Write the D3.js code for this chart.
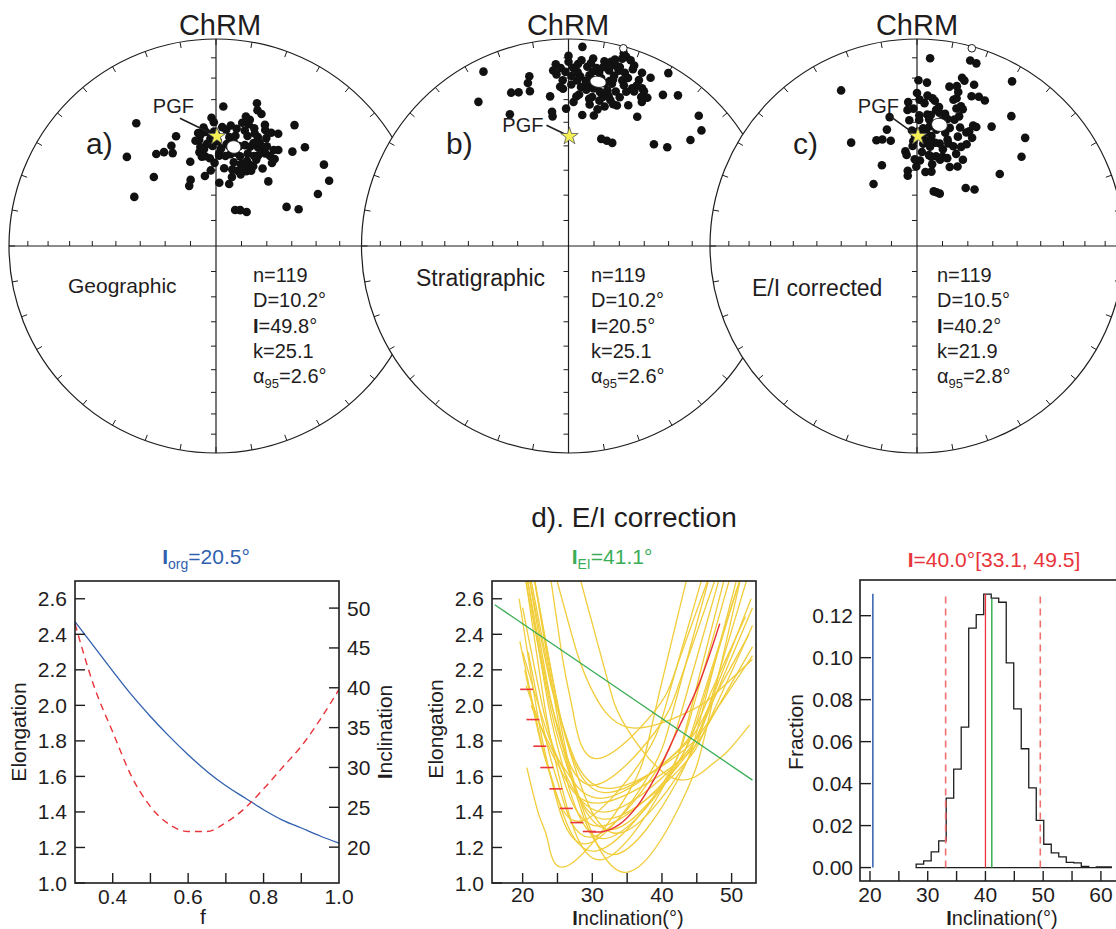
<!DOCTYPE html>
<html>
<head>
<meta charset="utf-8">
<script src="https://cdn.jsdelivr.net/npm/d3@7/dist/d3.min.js"></script>
<style>
html,body{margin:0;padding:0;background:#fff;}
svg{display:block;}
</style>
</head>
<body>
<svg id="chart" width="1116" height="929"></svg>
<script>
// ================= DATA =================
// Stereonets (a: geographic, b: stratigraphic, c: E/I corrected)
const netTitles = ["ChRM", "ChRM", "ChRM"];
const netTags = ["a)", "b)", "c)"];
const netFrames = ["Geographic", "Stratigraphic", "E/I corrected"];
const netN = [119, 119, 119];
const netDec = [10.2, 10.2, 10.5];
const netInc = [49.8, 20.5, 40.2];
const netK = [25.1, 25.1, 21.9];
const netA95 = [2.6, 2.6, 2.8];
const pgfDir = [0.5, 46.0];               // expected field direction [dec, inc]
const axisIncTicks = [10, 20, 30, 40, 50, 60, 70, 80];
const azimuthTicks = d3.range(0, 360, 10);

// [declination, inclination] of lower-hemisphere ChRM directions
const dirsGeo = [
[327,30],[315,39],[327,46],[331,47],[335,49],[336,46],[340,43],[318,53],[301,52],[343,55],
[339,62],[336,64],[351,62],[356,60],[3,65],[12,65],[3,33],[358,38],[359,40],[354,42],
[351,44],[351,47],[351,50],[350,52],[351,54],[355,44],[357,47],[358,50],[359,57],[2,53],
[3,42],[5,43],[7,46],[10,45],[10,48],[9,53],[6,59],[12,59],[13,62],[16,59],
[19,60],[22,58],[25,57],[15,53],[20,54],[19,51],[16,48],[16,44],[12,39],[15,39],
[15,37],[18,40],[16,29],[17,32],[19,33],[19,42],[21,43],[22,37],[23,39],[26,39],
[29,38],[23,47],[26,47],[28,48],[25,50],[31,48],[31,45],[33,44],[34,50],[34,48],
[31,54],[39,57],[33,31],[42,36],[39,41],[53,35],[60,37],[63,44],[61,58],[66,54],
[28,74],[34,73],[42,72],[2,54],[6,49],[13,49],[17,56],[22,55],[352,45],[349,47],
[1,48],[6,54],[20,46],[25,42],[0,45],[10,42],[353,51],[356,55],[23,51],[13,36],
[7,41],[12,52],[14,42],[23,45],[27,45],[359,44],[355,49],[3,51],[19,48],[25,52],
[12,56],[353,54],[8,50],[19,57],[25,55]
];
const dirsStrat = [
[4,4],[0,9],[0,12],[356,13],[355,16],[356,18],[358,21],[357,24],[358,25],[1,19],
[1,23],[3,17],[3,13],[4,11],[6,14],[7,12],[4,19],[6,21],[7,18],[8,16],
[9,14],[10,16],[8,20],[7,23],[9,24],[10,22],[11,10],[13,9.5],[14,8],[16,6.5],
[16,3.5],[17,5],[15,11],[16,13],[15,16],[14,19],[15,20],[14,23.5],[17,23],[18,13],
[20,8],[20,10],[23,10],[26,10.5],[19,19],[22,19],[23,20],[25,17],[26,18],[26,21],
[28,20],[30,4],[32,15],[36,11],[45,12],[49,16],[49,23],[40,36],[45,33],[17,45],
[20,45],[23,45],[23,27],[28,30],[19,29],[17.5,29],[12,29],[14.5,31],[12,33],[11,36],
[6,36.5],[8,29],[3,28.5],[2,31],[359,34],[353,35],[353,37],[353,28],[347,17],[346,20],
[346,24],[342,23],[339.5,22],[336,31],[328,19],[334,7],[13,27],[9,28],[3,21],[359,17],
[11,13],[13,14],[15,18],[12.5,20.5],[6.5,25],[4.5,24],[18,17],[19.5,15],[23,14],[19,25],
[20.5,21.5],[11.5,25],[357.5,15],[1.5,15],[11,18.5],[16,27.5],[27,23],[7.5,9.5],[16,11],[4,27.5],
[8.5,31.5],[15,26],[23,17],[18.5,6],[13,12]
];
const dirsEI = [
[4,10],[16,7.5],[18,8],[30,9],[15,17],[16,18],[19.5,18.5],[11.5,22.5],[14,21.5],[15,24],
[15,27],[20,24],[22.5,23],[25,23.5],[0.5,21],[3.5,22],[0,27],[4,28],[6,29],[7,30],
[356.5,31],[1,30],[356,34.5],[358.5,34],[1,37],[4.5,36.5],[6,36.5],[8,34],[9.5,35],[11.5,38],
[13.5,37],[16,31.5],[17.5,30],[18.5,31],[25,36],[26.5,36],[32,32.5],[36,23.5],[45,27],[49.5,34],
[49,46],[40,60],[45.5,58],[17,67.5],[20,67.5],[23.5,67.5],[325,60],[336.5,55],[353,60],[352.5,62],
[359.5,58.5],[6.5,60.5],[11,60],[27,54.5],[23,50],[26,44.5],[27,41],[23.5,40],[20,39],[20.5,43],
[17,47],[16,45.5],[12.5,48],[10,48],[12,53.5],[16,53],[19,53],[15,54.5],[9,54],[10.5,57],
[7.5,53.5],[2,56],[3,52.5],[353,52],[358,48],[359,46],[357.5,43.5],[356.5,39],[1,39],[3,42.5],
[4.5,44],[7.5,45.5],[6,47.5],[3.5,49],[3,46.5],[339,44.5],[342,45],[346,46.5],[345.5,41.5],[327.5,40.5],
[334,17.5],[348,36.5],[11,39.5],[15.5,40.5],[16.5,36.5],[6,41.5],[9.5,42.5],[14,43],[20,47.5],[24,46.5],
[357.5,50],[353.5,53.5],[7.5,50],[15,50],[22.5,56],[9,32.5],[14,28],[3,31.5],[28,51],[358.5,55.5],
[5.5,38.5],[18,34.5],[24.5,39],[12,35],[0.5,44]
];
// upper-hemisphere directions (open symbols)
const upperGeo = [];
const upperStrat = [[15.5, -1]];
const upperEI = [[15.5, -1]];

// ---- d) left panel: flattening factor f ----
const fValues  = [0.30,0.35,0.40,0.45,0.50,0.55,0.60,0.65,0.70,0.75,0.80,0.85,0.90,0.95,1.00];
const incVsF   = [48.3,45.2,42.1,39.1,36.4,33.9,31.6,29.5,27.7,26.2,24.7,23.4,22.4,21.4,20.5];
const elongVsF = [2.46,2.11,1.85,1.60,1.43,1.33,1.29,1.29,1.34,1.42,1.53,1.65,1.77,1.92,2.09];
const elongTicks = [1.0,1.2,1.4,1.6,1.8,2.0,2.2,2.4,2.6];
const incRightTicks = [20,25,30,35,40,45,50];
const fTicks = [0.4,0.5,0.6,0.7,0.8,0.9];
const fLabels = [0.4,0.6,0.8,1.0];
const incOrig = 20.5;

// ---- d) middle panel: bootstrap E/I curves ----
const tk03Line = [[16.0,2.566],[53.0,1.579]];
const bootCurves = [
[[20.6,1.65],[22.4,1.375],[23.6,1.24],[26.6,1.10],[35.2,1.51],[38.8,1.93],[43.8,2.75]],
[[21.5,2.75],[25.4,1.905],[28.1,1.48],[34.7,1.06],[43.1,1.48],[46.6,1.905],[51.5,2.75]],
[[20.3,2.75],[23.4,1.94],[25.65,1.535],[31.0,1.13],[40.1,1.535],[43.9,1.94],[49.2,2.75]],
[[19.6,2.36],[22.8,1.77],[25.05,1.475],[30.5,1.18],[40.25,1.57],[44.3,1.965],[50.0,2.75]],
[[20.5,2.75],[23.7,2.0],[26.0,1.625],[31.5,1.25],[41.15,1.6],[45.1,1.955],[50.8,2.66]],
[[21.5,2.75],[25.0,2.015],[27.5,1.65],[33.5,1.28],[43.0,1.65],[46.9,2.015],[52.5,2.75]],
[[20.0,2.55],[23.2,1.935],[25.5,1.63],[31.0,1.32],[41.9,1.64],[46.4,1.96],[52.8,2.60]],
[[20.8,2.75],[23.9,2.055],[26.15,1.71],[31.5,1.36],[42.25,1.63],[46.7,1.905],[53.0,2.45]],
[[20.5,2.11],[23.6,1.78],[25.75,1.615],[31.0,1.45],[42.0,1.67],[46.6,1.89],[53.0,2.33]],
[[21.0,2.75],[24.1,2.13],[26.25,1.82],[31.5,1.51],[42.0,1.73],[46.3,1.955],[52.5,2.40]],
[[20.8,2.75],[23.9,2.14],[26.15,1.84],[31.5,1.535],[42.25,1.72],[46.7,1.91],[53.0,2.28]],
[[23.9,2.75],[25.9,2.225],[27.25,1.96],[30.6,1.70],[38.8,1.96],[42.2,2.225],[47.0,2.75]],
[[24.6,2.75],[27.7,2.31],[29.9,2.09],[35.2,1.876],[44.1,1.97],[47.8,2.07],[53.0,2.26]],
[[28.0,2.75],[32.0,2.17],[34.8,1.88],[41.6,1.59],[47.1,1.665],[49.4,1.74],[52.6,1.89]],
[[19.5,2.60],[22.3,1.91],[24.25,1.565],[29.0,1.22],[38.0,1.6],[41.7,1.985],[47.0,2.75]],
[[20.2,2.75],[23.8,2.025],[26.35,1.66],[32.5,1.30],[42.0,1.66],[45.9,2.025],[51.5,2.75]],
[[20.0,2.30],[23.5,1.85],[26.0,1.625],[32.0,1.40],[42.5,1.69],[46.8,1.975],[53.0,2.55]],
[[20.8,2.30],[23.5,1.78],[25.4,1.52],[30.0,1.26],[39.25,1.635],[43.1,2.005],[48.5,2.75]],
[[21.5,2.75],[24.9,1.955],[27.25,1.56],[33.0,1.16],[42.0,1.56],[45.7,1.955],[51.0,2.75]],
[[20.3,2.20],[22.7,1.775],[24.4,1.56],[28.5,1.35],[37.25,1.70],[40.9,2.05],[46.0,2.75]],
[[21.2,2.00],[24.4,1.74],[26.6,1.61],[32.0,1.48],[42.0,1.735],[46.1,1.99],[52.0,2.50]],
[[20.5,2.75],[23.3,2.15],[25.25,1.85],[30.0,1.55],[39.0,1.85],[42.7,2.15],[48.0,2.75]]
];
const incTicksMid = [20,25,30,35,40,45,50];
const incLabelsMid = [20,30,40,50];
const incEI = 41.1;

// ---- d) right panel: bootstrap histogram ----
const binEdges = [28.0,29.3,30.6,31.9,33.2,34.5,35.8,37.1,38.4,39.7,41.0,42.3,43.6,44.9,46.2,
                  47.5,48.8,50.1,51.4,52.7,54.0,55.3,56.6,57.9,59.2,60.5,61.8];
const binFrac = [0.0016,0.0032,0.0075,0.0127,0.0331,0.0469,0.0669,0.1141,0.1205,0.1303,
                 0.1284,0.1264,0.0975,0.0756,0.0566,0.0380,0.0225,0.0111,0.0070,0.0051,
                 0.0025,0.0022,0.0006,0.0000,0.0003,0.0003];
const fracTicks = [0,0.02,0.04,0.06,0.08,0.10,0.12];
const histIncTicks = [20,25,30,35,40,45,50,55,60];
const histIncLabels = [20,30,40,50,60];
const incMeanBoot = 40.0;
const incCI = [33.1, 49.5];
const markerTop = [0.1305, 0.1305, 0.1305, 0.128];  // orig, CI, mean, EI

// ================= LAYOUT / STYLE =================
const FONT = '"Liberation Sans", Arial, Helvetica, sans-serif';
const INK = "#1f1d1e";
const BLUE = "#2f5fae", RED = "#e8343a", GREEN = "#3aad57", YELLOW = "#f1cd3a", PINK = "#f07070";
const NET_CX = [216, 568.5, 917], NET_CY = 246, NET_R = 207;
const rad = Math.PI / 180;
const TICK_LABEL_Y = 902, AXIS_TITLE_Y = 925;

const svg = d3.select("#chart");
svg.append("rect").attr("width", 1116).attr("height", 929).attr("fill", "#fff");

function txt(g, x, y, segs, opts) {
  const t = g.append("text").attr("x", x).attr("y", y)
    .attr("font-family", FONT).attr("font-size", opts.size || 20)
    .attr("fill", opts.color || INK)
    .attr("text-anchor", opts.anchor || "start");
  if (opts.transform) t.attr("transform", opts.transform);
  let shifted = 0;
  segs.forEach(s => {
    const sp = t.append("tspan").text(s.t);
    if (s.b) sp.attr("font-weight", "bold");
    if (s.sub) { sp.attr("font-size", s.sub).attr("dy", 5); shifted = 5; }
    else if (shifted) { sp.attr("dy", -shifted); shifted = 0; }
  });
  return t;
}

// ================= STEREONETS =================
const allDirs = [dirsGeo, dirsStrat, dirsEI];
const allUpper = [upperGeo, upperStrat, upperEI];
const frameSize = [21, 23, 23], frameX = [68, 416, 752], frameY = [293, 286, 296];
const statX = [253, 591, 937], statY0 = 282, statDY = 25.3;
const tagX = [86, 446, 793], tagY = 154;
const titleX = [220, 568, 917];
const pgfLabel = [[-23, -23, -37, -18], [-26, -4, -23, -11], [-19, -23, -29, -21]];

function drawNet(i) {
  const cx = NET_CX[i], cy = NET_CY, R = NET_R;
  const g = svg.append("g");
  const rScale = d3.scaleLinear().domain([0, 1]).range([0, R]);
  const ea = inc => Math.SQRT2 * Math.sin((90 - Math.abs(inc)) / 2 * rad);
  const proj = (dec, inc) => { const r = rScale(ea(inc)); return [cx + r * Math.sin(dec * rad), cy - r * Math.cos(dec * rad)]; };

  g.append("circle").attr("cx", cx).attr("cy", cy).attr("r", R)
    .attr("fill", "#fff").attr("stroke", INK).attr("stroke-width", 1.2);
  // perimeter ticks
  g.selectAll("line.az").data(azimuthTicks).join("line")
    .attr("x1", a => cx + R * Math.sin(a * rad)).attr("y1", a => cy - R * Math.cos(a * rad))
    .attr("x2", a => cx + (R - 6) * Math.sin(a * rad)).attr("y2", a => cy - (R - 6) * Math.cos(a * rad))
    .attr("stroke", INK).attr("stroke-width", 1);
  // axes
  g.append("line").attr("x1", cx - R).attr("x2", cx + R).attr("y1", cy).attr("y2", cy).attr("stroke", INK).attr("stroke-width", 1.2);
  g.append("line").attr("x1", cx).attr("x2", cx).attr("y1", cy - R).attr("y2", cy + R).attr("stroke", INK).attr("stroke-width", 1.2);
  axisIncTicks.forEach(inc => {
    const r = rScale(ea(inc));
    [-1, 1].forEach(s => {
      g.append("line").attr("x1", cx + s * r).attr("x2", cx + s * r).attr("y1", cy).attr("y2", cy - 5).attr("stroke", INK).attr("stroke-width", 1);
      g.append("line").attr("x1", cx - 5).attr("x2", cx).attr("y1", cy + s * r).attr("y2", cy + s * r).attr("stroke", INK).attr("stroke-width", 1);
    });
  });
  // directions
  g.selectAll("circle.dir").data(allDirs[i]).join("circle")
    .attr("cx", d => proj(d[0], d[1])[0]).attr("cy", d => proj(d[0], d[1])[1])
    .attr("r", 4.3).attr("fill", "#111");
  g.selectAll("circle.up").data(allUpper[i]).join("circle")
    .attr("cx", d => proj(d[0], d[1])[0]).attr("cy", d => proj(d[0], d[1])[1])
    .attr("r", 3.8).attr("fill", "#fff").attr("stroke", INK).attr("stroke-width", 1);
  // alpha95 cone around mean
  const D = netDec[i] * rad, I = netInc[i] * rad, A = netA95[i] * rad;
  const m = [Math.cos(I) * Math.cos(D), Math.cos(I) * Math.sin(D), Math.sin(I)];
  const u = [-Math.sin(I) * Math.cos(D), -Math.sin(I) * Math.sin(D), Math.cos(I)];
  const v = [-Math.sin(D), Math.cos(D), 0];
  const cone = d3.range(0, 360, 6).map(t => {
    const p = [0, 1, 2].map(k => Math.cos(A) * m[k] + Math.sin(A) * (Math.cos(t * rad) * u[k] + Math.sin(t * rad) * v[k]));
    return proj(Math.atan2(p[1], p[0]) / rad, Math.asin(p[2]) / rad);
  });
  g.append("path").attr("d", d3.line().curve(d3.curveLinearClosed)(cone))
    .attr("fill", "#fff").attr("stroke", INK).attr("stroke-width", 1);
  // PGF star + label
  const sp = proj(pgfDir[0], pgfDir[1]);
  const o = pgfLabel[i];
  g.append("line").attr("x1", sp[0] + o[2]).attr("y1", sp[1] + o[3]).attr("x2", sp[0]).attr("y2", sp[1])
    .attr("stroke", INK).attr("stroke-width", 1.6);
  g.append("path").attr("d", d3.symbol(d3.symbolStar, 95)()).attr("transform", `translate(${sp[0]},${sp[1]})`)
    .attr("fill", "#f3ef55").attr("stroke", "#555").attr("stroke-width", 0.8);
  txt(g, sp[0] + o[0], sp[1] + o[1], [{t: "PGF"}], {size: 20, anchor: "end"});
  // texts
  txt(g, titleX[i], 35, [{t: netTitles[i]}], {size: 29, anchor: "middle"});
  txt(g, tagX[i], tagY, [{t: netTags[i]}], {size: 30});
  txt(g, frameX[i], frameY[i], [{t: netFrames[i]}], {size: frameSize[i]});
  const lines = [
    [{t: "n=" + netN[i]}],
    [{t: "D=" + netDec[i].toFixed(1) + "°"}],
    [{t: "I", b: true}, {t: "=" + netInc[i].toFixed(1) + "°"}],
    [{t: "k=" + netK[i].toFixed(1)}],
    [{t: "α"}, {t: "95", sub: 13}, {t: "=" + netA95[i].toFixed(1) + "°"}]
  ];
  lines.forEach((segs, j) => txt(g, statX[i], statY0 + j * statDY, segs, {size: 20}));
}
[0, 1, 2].forEach(drawNet);

// section title
txt(svg, 634, 527, [{t: "d). E/I correction"}], {size: 28, anchor: "middle"});

function box(g, x0, x1, y0, y1) {
  g.append("rect").attr("x", x0).attr("y", y0).attr("width", x1 - x0).attr("height", y1 - y0)
    .attr("fill", "none").attr("stroke", INK).attr("stroke-width", 1.6);
}

// ================= LEFT PANEL =================
{
  const g = svg.append("g");
  const x0 = 75, x1 = 339, y0 = 581, y1 = 883;
  const fx = d3.scaleLinear().domain([0.3, 1.0]).range([x0, x1]);
  const elY = d3.scaleLinear().domain([1.0, 2.7]).range([y1, y0]);
  const incY = d3.scaleLinear().domain([15.5, 53.4]).range([y1, y0]);
  const pts = fValues.map((f, i) => ({f, inc: incVsF[i], el: elongVsF[i]}));
  g.append("path").attr("d", d3.line().x(d => fx(d.f)).y(d => incY(d.inc)).curve(d3.curveMonotoneX)(pts))
    .attr("fill", "none").attr("stroke", BLUE).attr("stroke-width", 1.3);
  g.append("path").attr("d", d3.line().x(d => fx(d.f)).y(d => elY(d.el)).curve(d3.curveMonotoneX)(pts))
    .attr("fill", "none").attr("stroke", RED).attr("stroke-width", 1.4).attr("stroke-dasharray", "7,5");
  box(g, x0, x1, y0, y1);
  elongTicks.forEach(v => {
    g.append("line").attr("x1", x0).attr("x2", x0 + 10).attr("y1", elY(v)).attr("y2", elY(v)).attr("stroke", INK).attr("stroke-width", 1.4);
    txt(g, x0 - 8, elY(v) + 7.5, [{t: v.toFixed(1)}], {size: 21, anchor: "end"});
  });
  incRightTicks.forEach(v => {
    g.append("line").attr("x1", x1).attr("x2", x1 - 10).attr("y1", incY(v)).attr("y2", incY(v)).attr("stroke", INK).attr("stroke-width", 1.4);
    txt(g, x1 + 8, incY(v) + 7.5, [{t: String(v)}], {size: 21});
  });
  fTicks.forEach(v => g.append("line").attr("x1", fx(v)).attr("x2", fx(v)).attr("y1", y1).attr("y2", y1 - 10).attr("stroke", INK).attr("stroke-width", 1.4));
  fLabels.forEach(v => txt(g, fx(v), TICK_LABEL_Y + 2, [{t: v.toFixed(1)}], {size: 21, anchor: "middle"}));
  txt(g, 203, 924, [{t: "f"}], {size: 21, anchor: "middle"});
  txt(g, 0, 0, [{t: "Elongation"}], {size: 21, anchor: "middle", transform: "translate(26,732) rotate(-90)"});
  txt(g, 0, 0, [{t: "I", b: true}, {t: "nclination"}], {size: 21, anchor: "middle", transform: "translate(392,732) rotate(-90)"});
  txt(g, 206, 564, [{t: "I", b: true}, {t: "org", sub: 14}, {t: "=" + incOrig.toFixed(1) + "°"}], {size: 21, anchor: "middle", color: BLUE});
}

// ================= MIDDLE PANEL =================
{
  const g = svg.append("g");
  const x0 = 492, x1 = 756, y0 = 581, y1 = 883;
  const ix = d3.scaleLinear().domain([15.6, 53.5]).range([x0, x1]);
  const ey = d3.scaleLinear().domain([1.0, 2.7]).range([y1, y0]);
  svg.append("clipPath").attr("id", "clipMid").append("rect").attr("x", x0).attr("y", y0).attr("width", x1 - x0).attr("height", y1 - y0);
  const inner = g.append("g").attr("clip-path", "url(#clipMid)");
  const ln = d3.line().x(d => ix(d[0])).y(d => ey(d[1])).curve(d3.curveNatural);
  inner.selectAll("path.boot").data(bootCurves).join("path").attr("d", ln)
    .attr("fill", "none").attr("stroke", YELLOW).attr("stroke-width", 1.3);
  // observed data path (f from 0.3 to 0.65 solid, marks for f >= 0.65)
  const obs = fValues.map((f, i) => [incVsF[i], elongVsF[i], f]);
  inner.append("path").attr("d", d3.line().x(d => ix(d[0])).y(d => ey(d[1])).curve(d3.curveCatmullRom)(obs.filter(d => d[2] <= 0.65)))
    .attr("fill", "none").attr("stroke", RED).attr("stroke-width", 1.5);
  inner.selectAll("line.mk").data(obs.filter(d => d[2] >= 0.65)).join("line")
    .attr("x1", d => ix(d[0]) - 6).attr("x2", d => ix(d[0]) + 7).attr("y1", d => ey(d[1])).attr("y2", d => ey(d[1]))
    .attr("stroke", RED).attr("stroke-width", 1.6);
  inner.append("path").attr("d", d3.line().x(d => ix(d[0])).y(d => ey(d[1]))(tk03Line))
    .attr("fill", "none").attr("stroke", GREEN).attr("stroke-width", 1.3);
  box(g, x0, x1, y0, y1);
  elongTicks.forEach(v => {
    g.append("line").attr("x1", x0).attr("x2", x0 + 10).attr("y1", ey(v)).attr("y2", ey(v)).attr("stroke", INK).attr("stroke-width", 1.4);
    txt(g, x0 - 8, ey(v) + 7.5, [{t: v.toFixed(1)}], {size: 21, anchor: "end"});
  });
  incTicksMid.forEach(v => g.append("line").attr("x1", ix(v)).attr("x2", ix(v)).attr("y1", y1).attr("y2", y1 - 10).attr("stroke", INK).attr("stroke-width", 1.4));
  incLabelsMid.forEach(v => txt(g, ix(v), TICK_LABEL_Y, [{t: String(v)}], {size: 21, anchor: "middle"}));
  txt(g, 628, AXIS_TITLE_Y, [{t: "I", b: true}, {t: "nclination(°)"}], {size: 20, anchor: "middle"});
  txt(g, 0, 0, [{t: "Elongation"}], {size: 21, anchor: "middle", transform: "translate(443,729) rotate(-90)"});
  txt(g, 612, 564, [{t: "I", b: true}, {t: "EI", sub: 14}, {t: "=" + incEI.toFixed(1) + "°"}], {size: 21, anchor: "middle", color: GREEN});
}

// ================= RIGHT PANEL =================
{
  const g = svg.append("g");
  const x0 = 860, x1 = 1124, y0 = 580, y1 = 881;
  const hx = d3.scaleLinear().domain([18.27, 64.0]).range([x0, x1]);
  const fy = d3.scaleLinear().domain([-0.0064, 0.137]).range([y1, y0]);
  // histogram outline
  const p = d3.path();
  p.moveTo(hx(binEdges[0]), fy(0));
  binFrac.forEach((fr, i) => { p.lineTo(hx(binEdges[i]), fy(fr)); p.lineTo(hx(binEdges[i + 1]), fy(fr)); });
  p.lineTo(hx(binEdges[binEdges.length - 1]), fy(0));
  p.closePath();
  g.append("path").attr("d", p.toString()).attr("fill", "none").attr("stroke", INK).attr("stroke-width", 1.3);
  const vline = (inc, top, col, dash, w) => g.append("line").attr("x1", hx(inc)).attr("x2", hx(inc)).attr("y1", fy(0)).attr("y2", fy(top))
    .attr("stroke", col).attr("stroke-width", w).attr("stroke-dasharray", dash);
  vline(incOrig, markerTop[0], BLUE, null, 1.5);
  incCI.forEach(v => vline(v, markerTop[1], PINK, "7,5", 1.6));
  vline(incMeanBoot, markerTop[2], RED, null, 1.3);
  vline(incEI, markerTop[3], GREEN, null, 1.5);
  box(g, x0, x1, y0, y1);
  fracTicks.forEach(v => {
    g.append("line").attr("x1", x0).attr("x2", x0 + 11).attr("y1", fy(v)).attr("y2", fy(v)).attr("stroke", INK).attr("stroke-width", 1.4);
    txt(g, 853, fy(v) + 7.5, [{t: v.toFixed(2)}], {size: 21, anchor: "end"});
  });
  histIncTicks.forEach(v => g.append("line").attr("x1", hx(v)).attr("x2", hx(v)).attr("y1", y1).attr("y2", y1 - 10).attr("stroke", INK).attr("stroke-width", 1.4));
  histIncLabels.forEach(v => txt(g, hx(v), TICK_LABEL_Y, [{t: String(v)}], {size: 21, anchor: "middle"}));
  txt(g, 1002, AXIS_TITLE_Y, [{t: "I", b: true}, {t: "nclination(°)"}], {size: 20, anchor: "middle"});
  txt(g, 0, 0, [{t: "Fraction"}], {size: 21, anchor: "middle", transform: "translate(803,732) rotate(-90)"});
  txt(g, 994, 567, [{t: "I", b: true}, {t: "=" + incMeanBoot.toFixed(1) + "°[" + incCI[0].toFixed(1) + ", " + incCI[1].toFixed(1) + "]"}],
      {size: 21, anchor: "middle", color: RED});
}
</script>
</body>
</html>
